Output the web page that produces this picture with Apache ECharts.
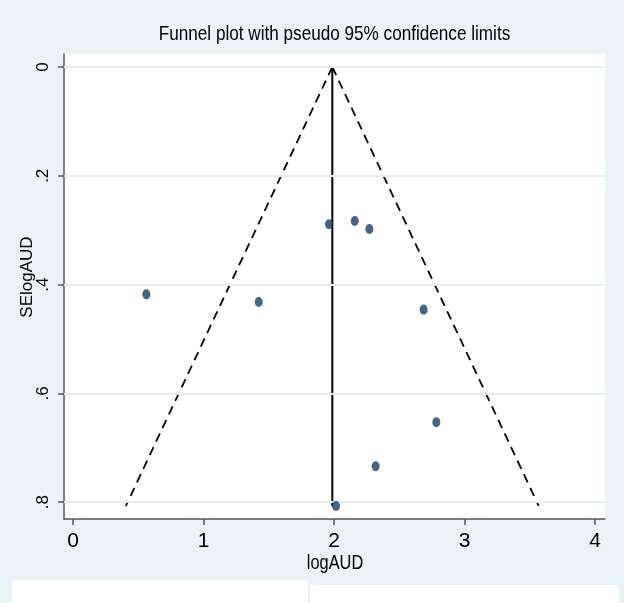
<!DOCTYPE html>
<html>
<head>
<meta charset="utf-8">
<script src="https://cdn.jsdelivr.net/npm/echarts@6/dist/echarts.min.js"></script>
<style>
html,body{margin:0;padding:0;background:#eaf2f3;}
#c{width:624px;height:603px;}
</style>
</head>
<body>
<div id="c"></div>
<script>
// Study effects (logAUD) and standard errors (SElogAUD)
const logAUD   = [1.962, 2.159, 2.271, 0.562, 1.423, 2.687, 2.784, 2.319, 2.015];
const SElogAUD = [0.289, 0.283, 0.298, 0.418, 0.432, 0.446, 0.653, 0.734, 0.807];
// Pooled estimate line and pseudo 95% confidence limit lines (endpoints)
const pooledLine = [[1.987, 0], [1.987, 0.807]];
const lowerLimit = [[1.987, 0], [0.405, 0.807]];
const upperLimit = [[1.987, 0], [3.569, 0.807]];
// Tick values
const xTicks = [0, 1, 2, 3, 4];
const yTicks = [0, 0.2, 0.4, 0.6, 0.8];
const yTickLabels = ['0', '.2', '.4', '.6', '.8'];
const titleText = 'Funnel plot with pseudo 95% confidence limits';
const xName = 'logAUD';
const yName = 'SElogAUD';

const regular = '"Liberation Sans", Arial, sans-serif';

const chart = echarts.init(document.getElementById('c'), null, {renderer: 'canvas'});
chart.setOption({
  backgroundColor: '#eaf2f3',
  animation: false,
  graphic: [
    {type: 'rect', shape: {x: 12, y: 580, width: 296, height: 30}, style: {fill: '#ffffff'}, silent: true},
    {type: 'rect', shape: {x: 310, y: 585, width: 309, height: 30}, style: {fill: '#ffffff'}, silent: true},
    {type: 'text', x: 334.5, y: 24, scaleX: 0.816, silent: true,
      style: {text: titleText, fontFamily: regular, fontSize: 21, fill: '#000', align: 'center', verticalAlign: 'top'}},
    {type: 'text', x: 335, y: 553, scaleX: 0.78, silent: true,
      style: {text: xName, fontFamily: regular, fontSize: 21, fill: '#000', align: 'center', verticalAlign: 'top'}},
    {type: 'text', x: 27, y: 277, rotation: Math.PI / 2, silent: true,
      style: {text: yName, fontFamily: regular, fontSize: 17, fill: '#000', align: 'center', verticalAlign: 'middle'}}
  ],
  grid: {left: 64, top: 54, width: 541, height: 465, backgroundColor: '#ffffff', show: true, borderWidth: 0},
  xAxis: {
    type: 'value', min: -0.069, max: 4.0766,
    axisLine: {show: true, onZero: false, lineStyle: {color: '#555', width: 1.5}},
    axisTick: {show: true, length: 6, customValues: xTicks, lineStyle: {color: '#555', width: 1.5}},
    axisLabel: {customValues: xTicks, margin: 12, fontFamily: regular, fontSize: 21, color: '#000',
      formatter: v => String(v)},
    splitLine: {show: false}
  },
  yAxis: {
    type: 'value', inverse: true, min: -0.0239, max: 0.831,
    axisLine: {show: true, onZero: false, lineStyle: {color: '#555', width: 1.5}},
    axisTick: {show: true, length: 6, customValues: yTicks, lineStyle: {color: '#555', width: 1.5}},
    axisLabel: {customValues: yTicks, rotate: 90, margin: 12, fontFamily: regular, fontSize: 17, color: '#000',
      formatter: v => yTickLabels[yTicks.findIndex(t => Math.abs(t - v) < 1e-6)] ?? ''},
    splitLine: {show: false}
  },
  series: [
    {
      type: 'line', data: [], silent: true,
      markLine: {
        silent: true, symbol: 'none', label: {show: false},
        lineStyle: {color: '#e4eef0', width: 2, type: 'solid'},
        data: yTicks.map(v => ({yAxis: v}))
      }
    },
    {type: 'line', data: lowerLimit, symbol: 'none', silent: true,
      lineStyle: {color: '#000', width: 1.8, type: [9, 6]}},
    {type: 'line', data: upperLimit, symbol: 'none', silent: true,
      lineStyle: {color: '#000', width: 1.8, type: [9, 6]}},
    {type: 'line', data: pooledLine, symbol: 'none', silent: true,
      lineStyle: {color: '#000', width: 2}},
    {type: 'scatter', data: logAUD.map((x, i) => [x, SElogAUD[i]]),
      symbol: 'circle', symbolSize: [8, 10], itemStyle: {color: '#163f66'}, z: 5}
  ]
});
</script>
</body>
</html>
